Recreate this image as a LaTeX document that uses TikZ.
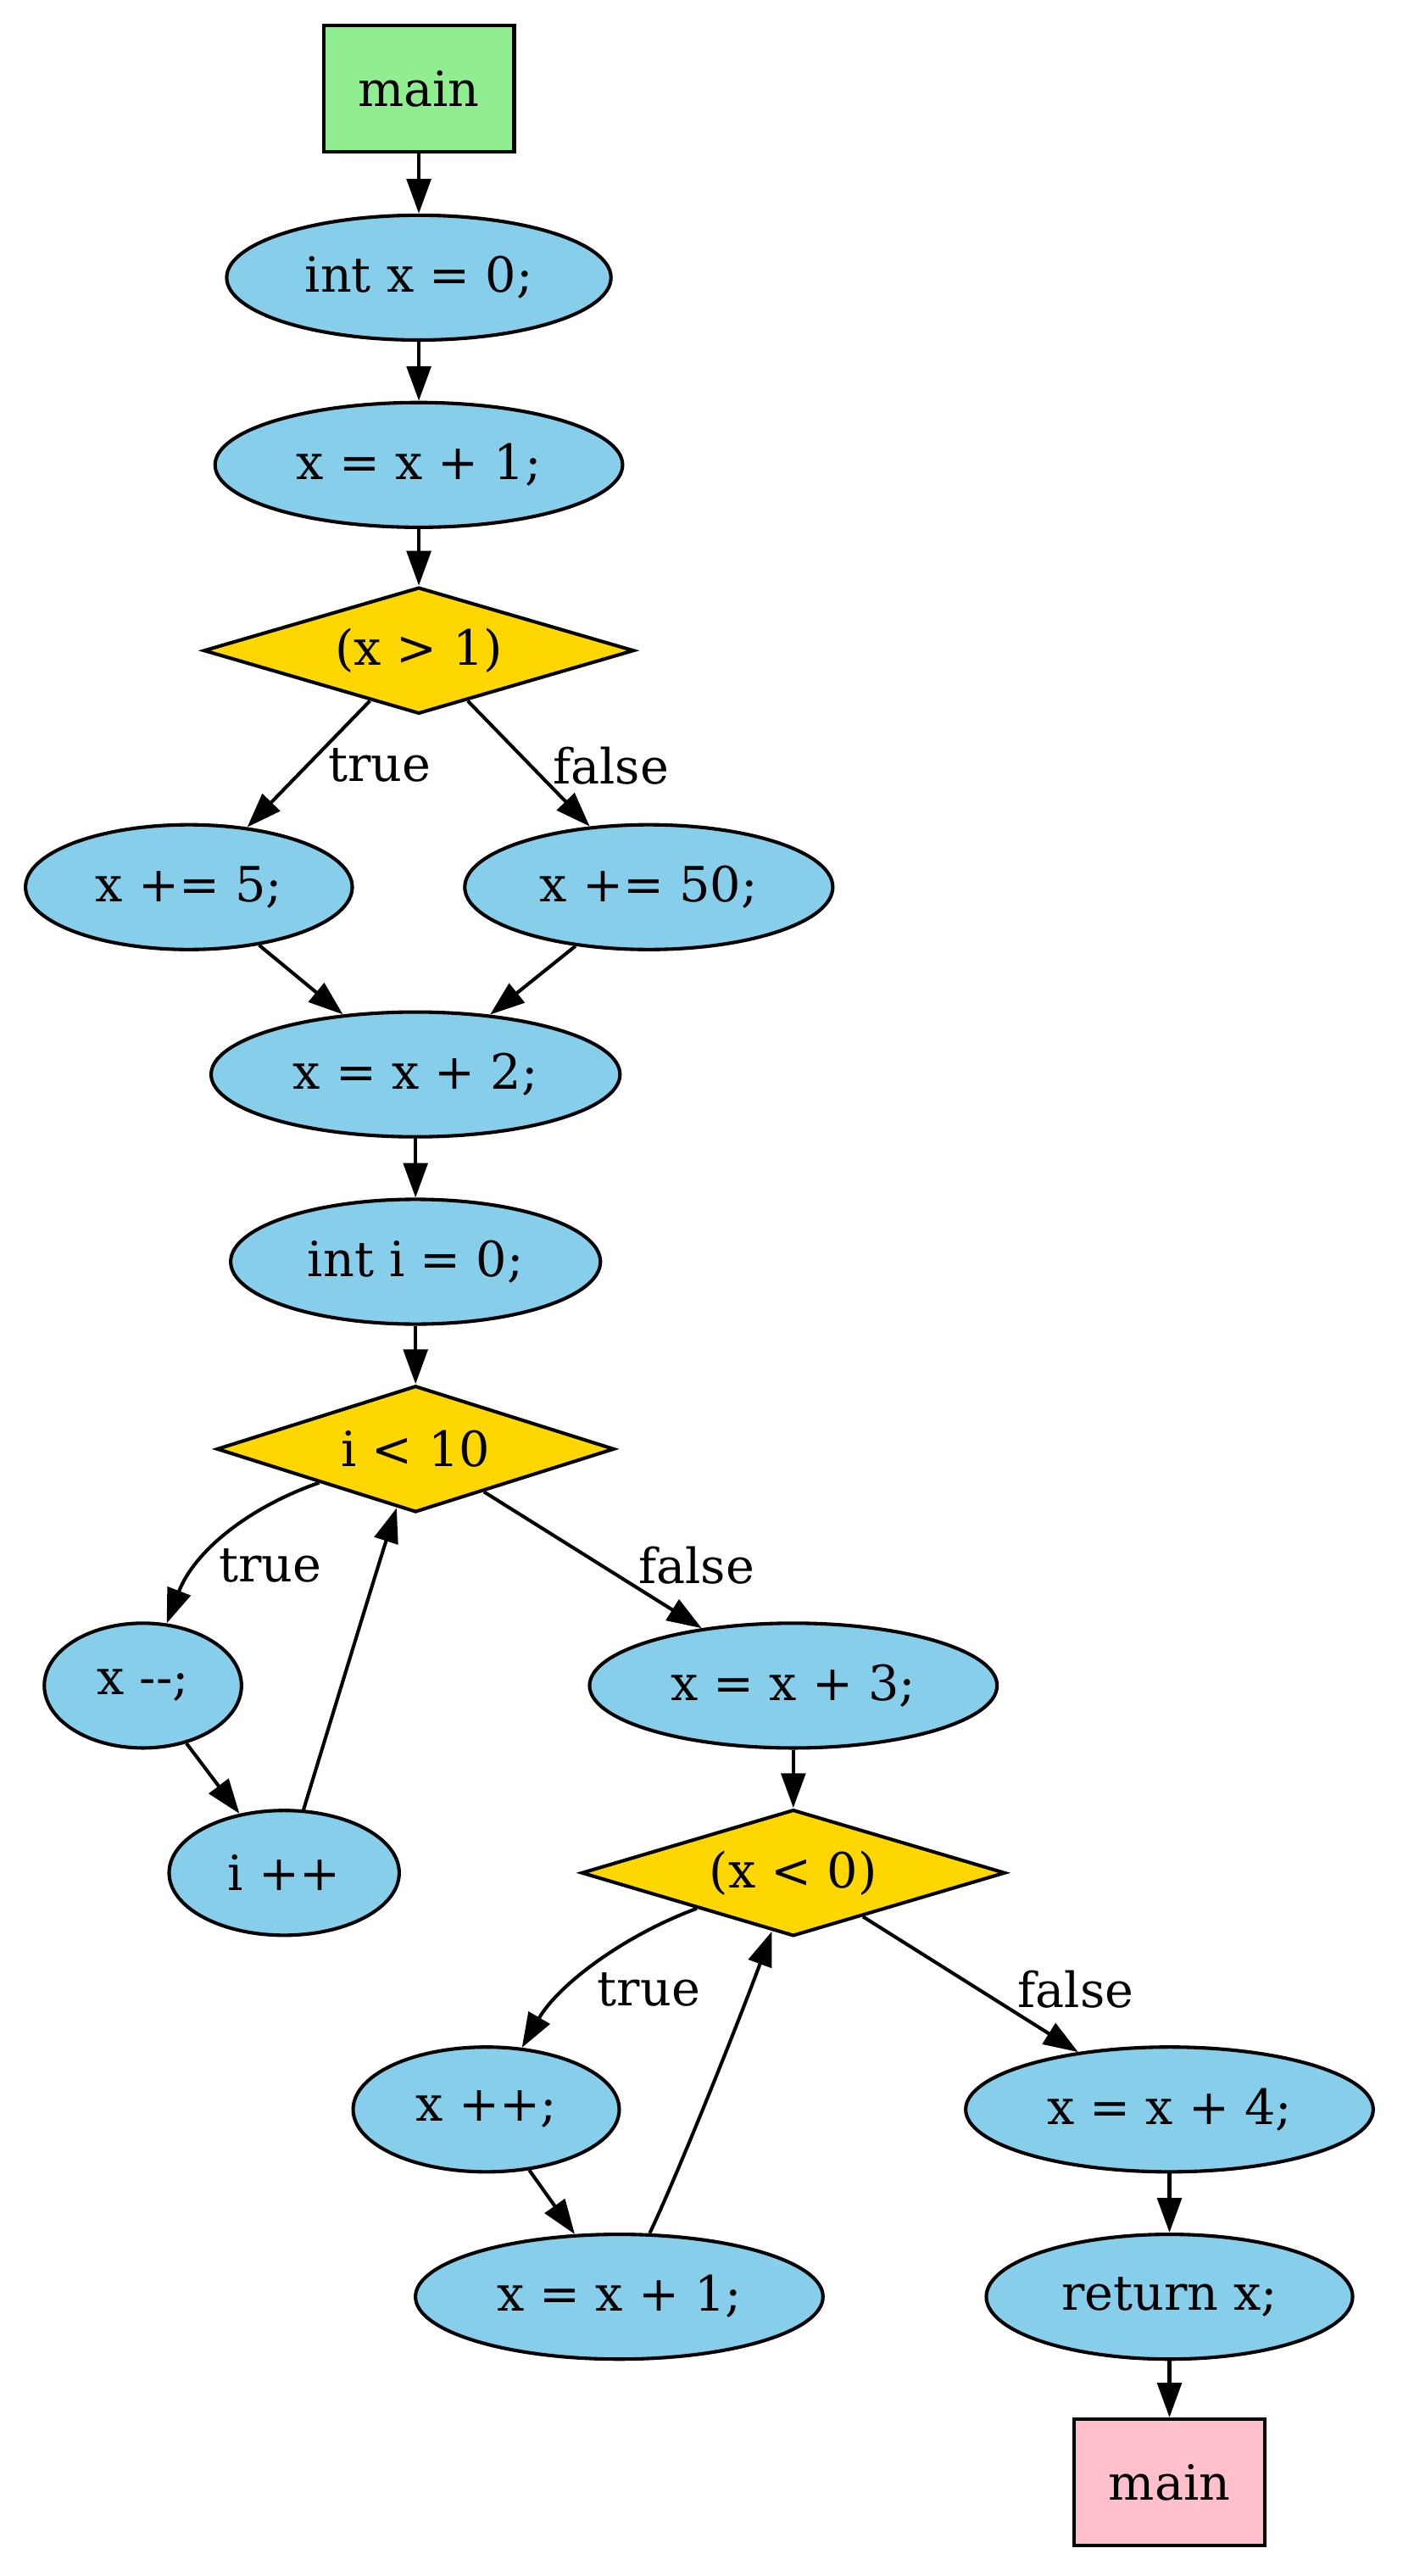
\documentclass[tikz,border=0pt]{standalone}
\usepackage{fontspec}
\setmainfont{DejaVu Serif}
\usetikzlibrary{shapes.geometric,arrows.meta}
\definecolor{lgreen}{HTML}{90EE90}
\definecolor{sky}{HTML}{87CEEB}
\definecolor{goldc}{HTML}{FFD700}
\definecolor{pinkc}{HTML}{FFC0CB}
\tikzset{
  base/.style={draw=black, line width=1pt, inner sep=0pt, font=\fontsize{14pt}{16pt}\selectfont},
  boxn/.style={base, rectangle, minimum width=55pt, minimum height=36.5pt},
  stmt/.style={base, ellipse, fill=sky, minimum height=36pt},
  cond/.style={base, diamond, aspect=3.4, fill=goldc, minimum height=36.5pt},
  edge/.style={line width=1pt, -{Triangle[length=10pt,width=7pt]}},
  lbl/.style={inner sep=0pt, font=\fontsize{14pt}{16pt}\selectfont}
}
\begin{document}
\begin{tikzpicture}[x=0.474pt,y=-0.474pt]
\useasboundingbox (0,0) rectangle (854,1568);
\node[boxn, fill=lgreen] (m1) at (255,54) {main};
\node[stmt, minimum width=110.9pt] (intx) at (255,169) {int x = 0;};
\node[stmt, minimum width=117.6pt] (x1) at (255,283) {x = x + 1;};
\node[cond, minimum width=124.2pt] (d1) at (255,396) {(x > 1)};
\node[stmt, minimum width=94.3pt] (x5) at (115,540) {x += 5;};
\node[stmt, minimum width=106.2pt] (x50) at (395,540) {x += 50;};
\node[stmt, minimum width=118pt] (x2) at (253,654) {x = x + 2;};
\node[stmt, minimum width=106.7pt] (inti) at (253,768) {int i = 0;};
\node[cond, minimum width=114.7pt] (d2) at (253,882) {i < 10};
\node[stmt, minimum width=56.9pt] (xdec) at (87,1026) {x {-}{-};};
\node[stmt, minimum width=66.4pt] (ipp) at (173,1140) {i ++};
\node[stmt, minimum width=117.6pt] (xp3) at (483,1026) {x = x + 3;};
\node[cond, minimum width=122.3pt] (d3) at (483,1140) {(x < 0)};
\node[stmt, minimum width=76.8pt] (xpp) at (296,1284) {x ++;};
\node[stmt, minimum width=117.6pt] (xp1b) at (377,1398) {x = x + 1;};
\node[stmt, minimum width=117.6pt] (xp4) at (712,1284) {x = x + 4;};
\node[stmt, minimum width=105.7pt] (ret) at (712,1398) {return x;};
\node[boxn, fill=pinkc] (m2) at (712,1511) {main};

\draw[edge] (m1) -- (intx);
\draw[edge] (intx) -- (x1);
\draw[edge] (x1) -- (d1);
\draw[edge] (d1) -- (x5) node[lbl] (t1) at (231,466) {true};
\draw[edge] (d1) -- (x50) node[lbl] (f1) at (372,466) {false};
\draw[edge] (x5) -- (x2);
\draw[edge] (x50) -- (x2);
\draw[edge] (x2) -- (inti);
\draw[edge] (inti) -- (d2);
\draw[edge] (d2) .. controls (150,918) and (118,945) .. (xdec) node[lbl] (t2) at (164.5,953) {true};
\draw[edge] (xdec) -- (ipp);
\draw[edge] (ipp) .. controls (196,1065) and (228,960) .. (d2);
\draw[edge] (d2) -- (xp3) node[lbl] (f2) at (424,953) {false};
\draw[edge] (xp3) -- (d3);
\draw[edge] (d3) .. controls (380,1178) and (340,1208) .. (xpp) node[lbl] (t3) at (395,1211) {true};
\draw[edge] (xpp) -- (xp1b);
\draw[edge] (xp1b) .. controls (412,1325) and (450,1230) .. (d3);
\draw[edge] (d3) -- (xp4) node[lbl] (f3) at (655,1211) {false};
\draw[edge] (xp4) -- (ret);
\draw[edge] (ret) -- (m2);
\end{tikzpicture}
\end{document}
